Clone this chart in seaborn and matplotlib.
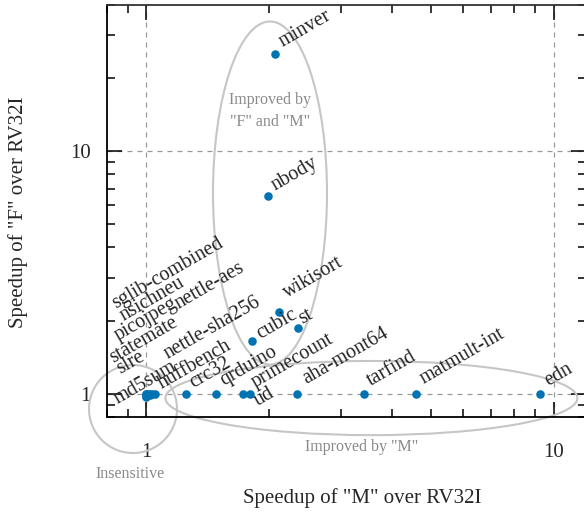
import matplotlib
matplotlib.use("Agg")
import matplotlib.pyplot as plt
from matplotlib.patches import Ellipse
from matplotlib.ticker import LogLocator, NullFormatter, FixedLocator, FixedFormatter
import seaborn as sb
import pandas as pd
import numpy as np

# benchmark speedups
names = ["sglib-combined", "nsichneu", "picojpeg", "statemate", "slre", "md5sum",
         "nettle-aes", "nettle-sha256", "huffbench", "crc32", "qrduino", "ud",
         "primecount", "aha-mont64", "tarfind", "matmult-int", "edn",
         "cubic", "st", "wikisort", "nbody", "minver"]
speedup_m = [1.00, 1.00, 1.01, 1.00, 1.02, 1.00,
             1.03, 1.02, 1.05, 1.25, 1.48, 1.73,
             1.80, 2.34, 3.43, 4.58, 9.24,
             1.82, 2.35, 2.12, 1.99, 2.07]
speedup_f = [0.97, 1.00, 1.00, 0.98, 1.00, 1.00,
             1.00, 0.99, 1.00, 1.00, 1.00, 1.00,
             1.00, 1.00, 1.00, 1.00, 1.00,
             1.65, 1.87, 2.16, 6.55, 25.0]

# label offsets in pixels (label placement was hand-adjusted in the original)
label_offsets = {
    "sglib-combined": (-31, 88), "nsichneu": (-23, 73), "picojpeg": (-30, 53),
    "statemate": (-33, 33), "slre": (-30, 20), "md5sum": (-29, -10),
    "nettle-aes": (27, 85), "nettle-sha256": (18, 36), "huffbench": (7, 5),
    "crc32": (7, 6), "qrduino": (8, 8), "ud": (14, -12), "primecount": (5, 6),
    "aha-mont64": (9, 10), "tarfind": (6, 8), "matmult-int": (8, 10),
    "edn": (8, 8), "cubic": (8, 2), "st": (5, 4), "wikisort": (8, 14),
    "nbody": (7, 5), "minver": (7, 7),
}

df = pd.DataFrame({"name": names, "M": speedup_m, "F": speedup_f})

sb.set_style("ticks")
plt.rcParams["font.family"] = ["Liberation Serif", "DejaVu Serif"]

fig = plt.figure(figsize=(5.84, 5.14), dpi=100)
ax = fig.add_axes([0.1832, 0.1887, 0.8202, 0.8016])

sb.scatterplot(data=df, x="M", y="F", ax=ax, color="#0173b2", s=38,
               linewidth=0, zorder=3)

ax.set_xscale("log")
ax.set_yscale("log")
ax.set_xlim(0.8, 12)
ax.set_ylim(0.8, 40)

ax.xaxis.set_major_locator(FixedLocator([1, 10]))
ax.xaxis.set_major_formatter(FixedFormatter(["1", "10"]))
ax.yaxis.set_major_locator(FixedLocator([1, 10]))
ax.yaxis.set_major_formatter(FixedFormatter(["1", "10"]))
ax.xaxis.set_minor_locator(LogLocator(base=10, subs=np.arange(2, 10)))
ax.yaxis.set_minor_locator(LogLocator(base=10, subs=np.arange(2, 10)))
ax.xaxis.set_minor_formatter(NullFormatter())
ax.yaxis.set_minor_formatter(NullFormatter())

ax.tick_params(which="both", direction="in", top=True, right=True,
               width=1.1, color="black")
ax.tick_params(which="major", length=10.8, labelsize=15)
ax.tick_params(which="minor", length=5.8)
ax.tick_params(axis="x", which="major", pad=18.5)
ax.tick_params(axis="y", which="major", pad=11.5)

for side in ["left", "bottom", "top", "right"]:
    ax.spines[side].set_linewidth(1.3)
    ax.spines[side].set_color("black")
ax.spines["top"].set_color("#333333")

ax.grid(which="major", color="#999999", linestyle=(0, (4, 4)), linewidth=0.9)

for n, x, y in zip(names, speedup_m, speedup_f):
    dx, dy = label_offsets[n]
    ax.annotate(n, (x, y), xytext=(dx, dy), textcoords="offset pixels",
                rotation=30, rotation_mode="anchor", ha="left", va="baseline",
                fontsize=14.5, zorder=4)

# region outlines
ring = "#c6c6c6"
ax.add_patch(Ellipse((0.0543, 0.0194), 0.1837, 0.2136, transform=ax.transAxes,
                     fill=False, edgecolor=ring, linewidth=1.5, clip_on=False))
ax.add_patch(Ellipse((0.552, 0.046), 0.860, 0.180, transform=ax.transAxes,
                     fill=False, edgecolor=ring, linewidth=1.5, clip_on=False))
ax.add_patch(Ellipse((0.3403, 0.5437), 0.238, 0.8325, transform=ax.transAxes,
                     fill=False, edgecolor=ring, linewidth=1.5, clip_on=False))

note = "#8a8a8a"
ax.text(0.3403, 0.7427, 'Improved by\n"F" and "M"', transform=ax.transAxes,
        ha="center", va="center", fontsize=11.5, color=note, linespacing=1.45)
ax.text(0.532, -0.072, 'Improved by "M"', transform=ax.transAxes,
        ha="center", va="center", fontsize=11.5, color=note)
ax.text(0.048, -0.138, "Insensitive", transform=ax.transAxes,
        ha="center", va="center", fontsize=11.5, color=note)

ax.set_xlabel('Speedup of "M" over RV32I', fontsize=15)
ax.set_ylabel('Speedup of "F" over RV32I', fontsize=15)
ax.xaxis.set_label_coords(0.532, -0.172)
ax.yaxis.set_label_coords(-0.165, 0.4976)

fig.savefig("out.png", dpi=100)
